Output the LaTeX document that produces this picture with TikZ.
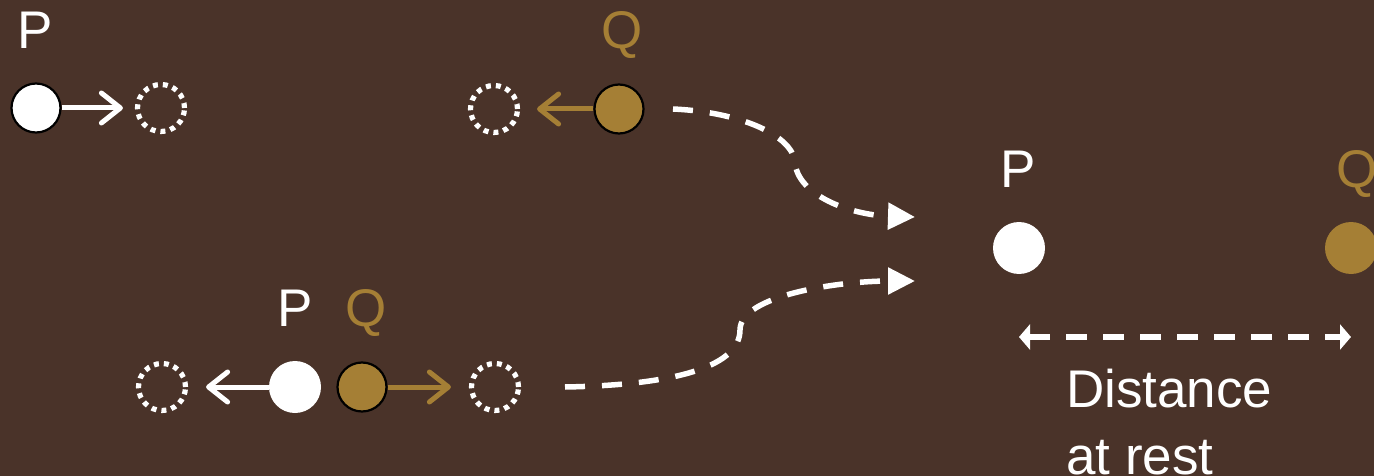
\documentclass[tikz,border=0pt]{standalone}
\usepackage{fontspec}
\setmainfont{Liberation Sans}
\usetikzlibrary{arrows.meta}
\definecolor{bgbrown}{HTML}{4A3329}
\definecolor{gold}{HTML}{A57F35}
\tikzset{
  x=1pt,y=-1pt,
  ghost/.style={circle,minimum size=47pt,inner sep=0pt,draw=white,line width=5.2pt,dash pattern=on 5pt off 5pt},
  ballP/.style={circle,minimum size=52pt,inner sep=0pt,fill=white},
  ballQ/.style={circle,minimum size=52pt,inner sep=0pt,fill=gold},
  edged/.style={minimum size=49pt,draw=black,line width=2.2pt},
  lbl/.style={anchor=base,inner sep=0pt,font=\fontsize{53}{64}\selectfont},
  move/.style={line width=5pt,-{Straight Barb[length=19pt,width=30pt,line width=5pt,round]}},
  path/.style={draw=white,line width=5.5pt,dash pattern=on 20pt off 17pt,-{Triangle[length=27pt,width=26pt]}},
  rest/.style={draw=white,line width=6pt,dash pattern=on 21pt off 16pt,{Triangle[length=11pt,width=25pt]}-{Triangle[length=11pt,width=25pt]}}
}
\begin{document}
\begin{tikzpicture}
\fill[bgbrown] (0,0) rectangle (1374,476);
\useasboundingbox (0,0) rectangle (1374,476);
% top-left: P moving right
\node[ballP,edged] (p1) at (36,108) {};
\node[ghost] (gp1) at (161,108) {};
\node[lbl,white] (lp1) at (35,49) {P};
\draw[move,white,shorten >=12pt] (p1) -- (gp1);
% top: Q moving left
\node[ballQ,edged] (q1) at (619,109) {};
\node[ghost] (gq1) at (494,109) {};
\node[lbl,text=gold] (lq1) at (622,49) {Q};
\draw[move,gold,shorten >=17pt] (q1) -- (gq1);
% bottom: P and Q separating
\node[ghost] (gp2) at (162,387) {};
\node[ballP] (p2) at (295,387) {};
\node[ballQ,edged] (q2) at (362,387) {};
\node[ghost] (gq2) at (495,387) {};
\node[lbl,white] (lp2) at (295,326) {P};
\node[lbl,text=gold] (lq2) at (366,326) {Q};
\draw[move,white,shorten >=18pt] (p2) -- (gp2);
\draw[move,gold,shorten >=18pt] (q2) -- (gq2);
% curved dashed connectors
\coordinate (c1s) at (673,109);
\coordinate (c1e) at (915,217);
\coordinate (c2s) at (565,387);
\coordinate (c2e) at (915,281);
\draw[path] (c1s) .. controls (740,112) and (792,135) .. (795,162) .. controls (797,195) and (850,215) .. (c1e);
\draw[path] (c2s) .. controls (680,385) and (740,365) .. (740,330) .. controls (740,295) and (840,281) .. (c2e);
% right: at rest
\node[ballP] (p3) at (1019,248) {};
\node[ballQ] (q3) at (1351,248) {};
\node[lbl,white] (lp3) at (1018,187) {P};
\node[lbl,text=gold] (lq3) at (1357,187) {Q};
\coordinate (r1) at (1019,337);
\coordinate (r2) at (1351,337);
\draw[rest] (r1) -- (r2);
\node[anchor=base west,inner sep=0pt,text=white,font=\fontsize{53}{67}\selectfont] (lt1) at (1066,407) {Distance};
\node[anchor=base west,inner sep=0pt,text=white,font=\fontsize{53}{67}\selectfont] (lt2) at (1066,474) {at rest};
\end{tikzpicture}
\end{document}
